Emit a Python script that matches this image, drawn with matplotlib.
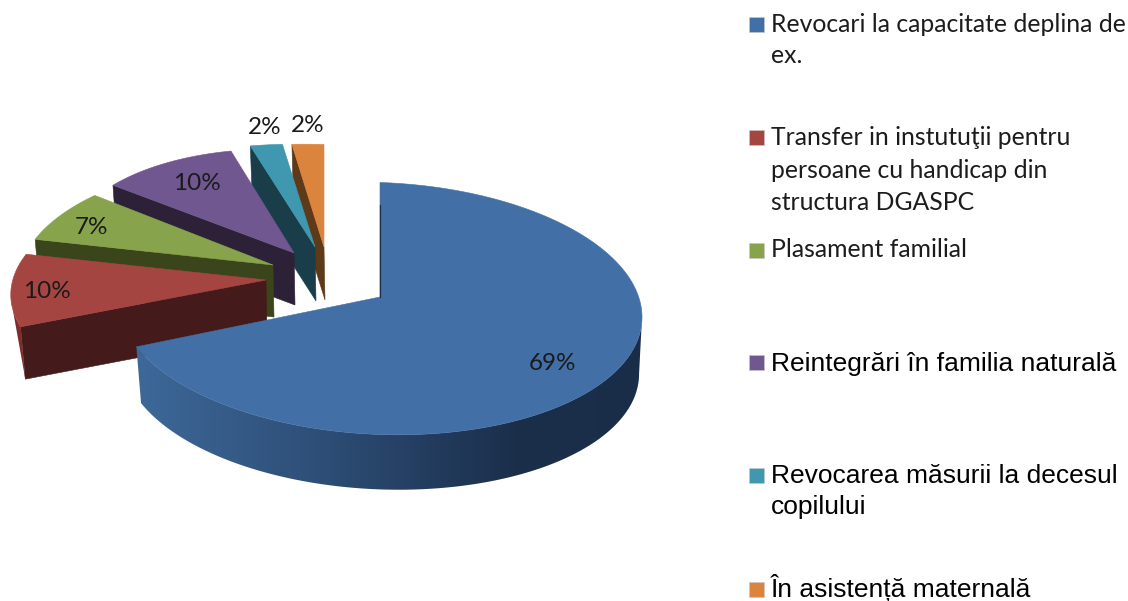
import numpy as np
import matplotlib
matplotlib.use("Agg")
import matplotlib.pyplot as plt
from matplotlib.patches import Polygon, Rectangle

# ---- data ----
categories = [
    "Revocari la capacitate deplina de\nex.",
    "Transfer in instutuţii pentru\npersoane cu handicap din\nstructura DGASPC",
    "Plasament familial",
    "Reintegrări în familia naturală",
    "Revocarea măsurii la decesul\ncopilului",
    "În asistență maternală",
]
values = [69, 10, 7, 10, 2, 2]

# ---- style ----
top_colors = ["#4270a6", "#a54542", "#87a44d", "#70578f", "#3f97b0", "#db843d"]
cut_colors = ["#1b2f4b", "#451a1a", "#3a451c", "#2c2137", "#1a3d4a", "#5e3a18"]
legend_fonts = ["Lato", "Lato", "Lato", "Liberation Sans", "Liberation Sans", "Liberation Sans"]
legend_sizes = [17.8, 17.8, 17.8, 19, 19, 19]

# ---- projection of the pie (pixel layout) ----
base = np.array([380.0, 297.0])
explode = [(0, 0), (-114, -17), (-107, -32), (-86, -44), (-65, -50), (-56, -50)]
radius_x = [262, 254, 252, 230, 260, 256]
radius_y = [126, 118, 118, 115, 114, 114]
tilt = [0, 25, 25, -6, 0, 0]
shear = 0.033
offset_y = 11.5
depth = [57, 53, 52, 52, 54, 53]
shrink = 0.985

fig = plt.figure(figsize=(11.28, 6.01), dpi=100)
ax = fig.add_axes([0, 0, 1, 1])
ax.axis("off")

edges = np.cumsum([0] + values) / sum(values) * 360.0


def rim(i, th_deg):
    th = np.radians(th_deg)
    dx = radius_x[i] * np.sin(th) + tilt[i] * np.cos(th)
    dy = offset_y - radius_y[i] * np.cos(th) + shear * dx
    return np.column_stack([dx, dy])


def apex(i):
    return base + np.array(explode[i], float)


def low(i, pts):
    return apex(i) + np.array([1.0, depth[i]]) + shrink * pts


z = 1
# back to front: the last slice first, the big blue slice last
for i in range(len(values) - 1, -1, -1):
    a0, a1 = edges[i], edges[i + 1]
    A = apex(i)
    if i == 0:
        # outer wall with a horizontal gradient
        ths = np.linspace(90, a1, 180)
        up = A + rim(i, ths)
        lo = low(i, rim(i, ths))
        wall = Polygon(np.vstack([up, lo[::-1]]), closed=True, fc="none", ec="none",
                       transform=ax.transData)
        ax.add_patch(wall)
        xs = np.linspace(130, 650, 520)
        t = np.clip((640 - xs) / 500.0, 0, 1)
        stops = np.array([[0x1a, 0x2d, 0x48], [0x1b, 0x2f, 0x4b], [0x2e, 0x4f, 0x78], [0x3d, 0x68, 0x98]]) / 255
        img = np.stack([np.interp(t, [0, 0.25, 0.65, 1], stops[:, j]) for j in range(3)], axis=-1)[None, :, :]
        im = ax.imshow(img, extent=(130, 650, 500, 300), aspect="auto", zorder=z, interpolation="bilinear")
        im.set_clip_path(wall)
        z += 1
    else:
        # cut face at the slice's starting edge
        p = rim(i, np.array([a0]))
        ax.add_patch(Polygon([A, A + p[0], low(i, p)[0], low(i, np.zeros((1, 2)))[0]],
                             closed=True, fc=cut_colors[i], ec=cut_colors[i], lw=0.4, zorder=z))
        z += 1
        if a0 < 270:
            ths = np.linspace(a0, 262, 20)
            up = A + rim(i, ths)
            lo = low(i, rim(i, ths))
            ax.add_patch(Polygon(np.vstack([up, lo[:1]]), closed=True, fc="#7a2f2d", ec="none", zorder=z - 0.5))
    ths = np.linspace(a0, a1, 200)
    outline = np.vstack([A, A + rim(i, ths)])
    ax.add_patch(Polygon(outline, closed=True, fc=top_colors[i], ec=top_colors[i], lw=0.4, zorder=z))
    z += 1

# thin visible sliver of the blue slice's vertical cut
s = apex(0) + rim(0, np.array([0.0]))[0]
ax.plot([s[0] + 0.2 * (base[0] - s[0]), base[0]], [s[1] + 0.2 * (base[1] - s[1]), base[1]],
        color=cut_colors[0], lw=0.9, zorder=z)
z += 1

# ---- data labels ----
label_pos = [(553, 364), (47, 292), (92, 228), (197, 184), (265, 127), (308, 125)]
for v, (x, y) in zip(values, label_pos):
    ax.text(x, y, f"{v}%", ha="center", va="center", fontsize=17.5, family="Lato", color="#1a1a1a", zorder=z)

# ---- legend ----
swatch_y = [24.5, 137, 250, 362, 475, 589]
first_base = [32, 145, 257, 371, 483, 597]
line_gap = [31, 32.5, 0, 0, 31, 0]
for i, cat in enumerate(categories):
    ax.add_patch(Rectangle((749, swatch_y[i] - 7.5), 15, 15, fc=top_colors[i], ec="#c8c8c8", lw=0.4, zorder=z))
    for n, line in enumerate(cat.split("\n")):
        ax.text(771, first_base[i] + n * line_gap[i], line, ha="left", va="baseline",
                fontsize=legend_sizes[i], family=legend_fonts[i], color="#1c1c1c" if i < 3 else "#000000", zorder=z)

ax.set_xlim(0, 1128)
ax.set_ylim(601, 0)
fig.savefig("out.png", dpi=100, facecolor="white")
